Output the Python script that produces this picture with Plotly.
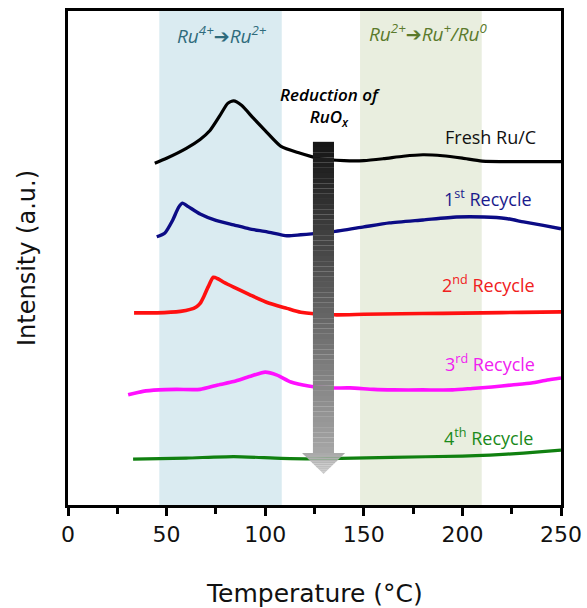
import plotly.graph_objects as go

# ---- data ----
fresh_T = [44, 50, 60, 67, 72, 77, 81, 84, 88, 94, 100, 108, 117, 128, 140, 150, 160, 170, 180, 190, 200, 210, 230, 250]
fresh_I = [69.2, 70.2, 72.2, 74.0, 75.8, 78.8, 81.3, 81.8, 80.9, 78.3, 75.8, 72.6, 71.3, 70.1, 69.7, 69.7, 70.1, 70.6, 70.9, 70.7, 70.2, 69.6, 69.5, 69.5]

r1_T = [45, 49, 53, 56, 58, 61, 67, 75, 84, 92, 101, 111, 118, 134, 150, 163, 180, 197, 211, 222, 231, 241, 250]
r1_I = [54.3, 55.0, 57.6, 60.2, 61.1, 60.4, 58.9, 57.6, 56.7, 55.9, 55.3, 54.5, 54.7, 55.3, 56.3, 57.1, 57.7, 58.3, 58.3, 58.0, 57.3, 56.6, 55.9]

r2_T = [33.5, 45, 57, 62, 65, 67, 69, 71, 73.7, 76, 79, 84, 92, 101, 111, 118, 135, 150, 169, 190, 210, 230, 250]
r2_I = [38.9, 38.9, 39.2, 39.6, 40.1, 40.8, 42.3, 44.1, 46.1, 45.8, 45.1, 44.1, 42.6, 41.0, 39.8, 39.0, 38.5, 38.6, 38.7, 38.8, 38.9, 39.0, 39.1]

r3_T = [30.5, 38, 46, 55, 67, 76, 84, 92, 100, 106, 113, 122, 133, 143, 155, 165, 180, 195, 205, 215, 225, 235, 243, 250]
r3_I = [22.3, 23.0, 23.3, 23.4, 23.4, 24.3, 25.0, 26.0, 26.9, 26.3, 24.9, 24.1, 23.7, 23.7, 23.4, 23.3, 23.3, 23.3, 23.6, 23.9, 24.3, 24.7, 25.3, 25.7]

r4_T = [33, 60, 84, 108, 125, 164, 200, 214, 231, 250]
r4_I = [9.3, 9.5, 9.8, 9.45, 9.35, 9.65, 9.9, 10.1, 10.5, 11.1]

x_ticks = [0, 50, 100, 150, 200, 250]

series = [
    ("Fresh Ru/C", fresh_T, fresh_I, "#000000", 3.2),
    ("1st Recycle", r1_T, r1_I, "#0b0b85", 3.4),
    ("2nd Recycle", r2_T, r2_I, "#ff1010", 3.6),
    ("3rd Recycle", r3_T, r3_I, "#ff10ff", 3.6),
    ("4th Recycle", r4_T, r4_I, "#108010", 3.2),
]

fig = go.Figure()
for name, xs, ys, col, w in series:
    fig.add_trace(go.Scatter(x=xs, y=ys, mode="lines", name=name,
                             line=dict(color=col, width=w, shape="spline", smoothing=0.6),
                             showlegend=False))

shapes = []
# shaded regions
shapes.append(dict(type="rect", xref="x", yref="y domain", x0=46.3, x1=108.4, y0=0, y1=1,
                   fillcolor="#daebf1", line=dict(width=0), layer="below"))
shapes.append(dict(type="rect", xref="x", yref="y domain", x0=148.1, x1=209.8, y0=0, y1=1,
                   fillcolor="#e9eedf", line=dict(width=0), layer="below"))

# gradient arrow
sx0, sx1 = 124.2, 134.9
top, base, tip = 73.5, 10.5, 6.3
N = 60
for i in range(N):
    ya = top - (top - base) * i / N
    yb = top - (top - base) * (i + 1) / N
    c = int(22 + (165 - 22) * i / (N - 1))
    shapes.append(dict(type="rect", xref="x", yref="y", x0=sx0, x1=sx1, y0=yb, y1=ya + 0.02,
                       fillcolor=f"rgb({c},{c},{c})", line=dict(width=0)))
hx0, hx1, hc = 118.7, 140.5, 129.6
M = 10
for i in range(M):
    ya = base - (base - tip) * i / M
    yb = base - (base - tip) * (i + 1) / M
    wa = (ya - tip) / (base - tip)
    wb = (yb - tip) / (base - tip)
    c = int(170 + (200 - 170) * i / (M - 1))
    hw = (hx1 - hx0) / 2
    path = (f"M {hc - hw * wa},{ya + 0.02} L {hc + hw * wa},{ya + 0.02} "
            f"L {hc + hw * wb},{yb} L {hc - hw * wb},{yb} Z")
    shapes.append(dict(type="path", xref="x", yref="y", path=path,
                       fillcolor=f"rgb({c},{c},{c})", line=dict(width=0)))

lab_font = "Open Sans"
arrow_html = '<span style="font-family:DejaVu Sans;font-style:normal">\u2794</span>'
annotations = [
    dict(x=214, y=74.5, text="Fresh Ru/C", font=dict(color="#111111", size=18, family=lab_font)),
    dict(x=213, y=62.1, text="1<sup>st</sup> Recycle", font=dict(color="#1a1a8c", size=18, family=lab_font)),
    dict(x=213, y=44.7, text="2<sup>nd</sup> Recycle", font=dict(color="#f02020", size=18, family=lab_font)),
    dict(x=214, y=28.7, text="3<sup>rd</sup> Recycle", font=dict(color="#f020f0", size=18, family=lab_font)),
    dict(x=213, y=13.8, text="4<sup>th</sup> Recycle", font=dict(color="#1a8a1a", size=18, family=lab_font)),
    dict(x=78.1, y=95.1, text="Ru<sup>4+</sup>" + arrow_html + "Ru<sup>2+</sup>",
         font=dict(color="#2f6b7c", size=19, family=lab_font, style="italic")),
    dict(x=182.6, y=95.5, text="Ru<sup>2+</sup>" + arrow_html + "Ru<sup>+</sup>/Ru<sup>0</sup>",
         font=dict(color="#5b7a2c", size=19, family=lab_font, style="italic")),
    dict(x=132.9, y=80.6, text="Reduction of<br>RuO<sub>x</sub>",
         font=dict(color="#000000", size=17, family=lab_font, style="italic", weight=600)),
    dict(xref="paper", yref="paper", x=0.5, y=0, yshift=-88, xanchor="center", yanchor="middle",
         text="Temperature (\u00b0C)", font=dict(color="#111111", size=25, family="DejaVu Sans")),
    dict(xref="paper", yref="paper", x=0, y=0.5, xshift=-41, xanchor="center", yanchor="middle",
         textangle=-90, text="Intensity (a.u.)",
         font=dict(color="#111111", size=24, family="DejaVu Sans")),
]
for a in annotations:
    a.setdefault("xref", "x")
    a.setdefault("yref", "y")
    a["showarrow"] = False

fig.update_layout(
    width=587, height=608,
    margin=dict(l=68, r=26, t=11, b=103, autoexpand=False),
    paper_bgcolor="white", plot_bgcolor="white",
    shapes=shapes, annotations=annotations,
    xaxis=dict(range=[0, 250], tickvals=x_ticks, ticktext=[str(v) for v in x_ticks],
               showline=True, linecolor="black", linewidth=3, mirror=True,
               ticks="outside", ticklen=8, tickwidth=3, tickcolor="black",
               minor=dict(dtick=25, tick0=0, ticks="outside", ticklen=6, tickwidth=3, tickcolor="black"),
               showgrid=False, zeroline=False, automargin=False,
               tickfont=dict(family="DejaVu Sans", size=22, color="#111111")),
    yaxis=dict(range=[0, 100], showline=True, linecolor="black", linewidth=3, mirror=True,
               showticklabels=False, ticks="", showgrid=False, zeroline=False, automargin=False),
)

fig.write_html("out.html")
